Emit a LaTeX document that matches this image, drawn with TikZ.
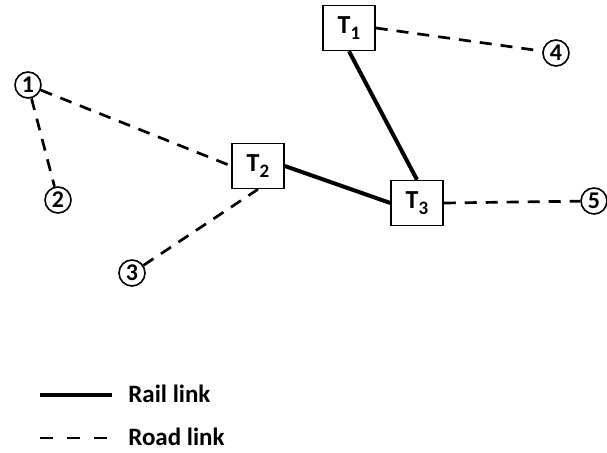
\documentclass[tikz,border=0pt]{standalone}
\usepackage{fontspec}
\setmainfont{Carlito}
\newcommand{\tsub}[1]{\raisebox{-0.45ex}{\fontsize{9.5}{9.5}\selectfont #1}}
\begin{document}
\begin{tikzpicture}[x=0.5pt,y=-0.5pt,
  term/.style={draw,line width=0.75pt,minimum width=26pt,minimum height=22.5pt,inner sep=0pt,font=\fontsize{13}{13}\selectfont\bfseries},
  zone/.style={draw,circle,line width=0.8pt,minimum size=13pt,inner sep=0pt,font=\fontsize{12}{12}\selectfont\bfseries},
  rail/.style={line width=2pt},
  road/.style={line width=1.35pt,dash pattern=on 6pt off 4.5pt},
  legtext/.style={anchor=west,inner sep=0pt,font=\fontsize{12.5}{13}\selectfont\bfseries}]
\useasboundingbox (0,0) rectangle (607,453);
\node[term] (T1) at (349,28) {T\tsub{1}};
\node[term] (T2) at (258,166) {T\tsub{2}};
\node[term] (T3) at (417,203) {T\tsub{3}};
\node[zone] (c1) at (28,85) {1};
\node[zone] (c2) at (58,200) {2};
\node[zone] (c3) at (132,273) {3};
\node[zone] (c4) at (556,53) {4};
\node[zone] (c5) at (594,201) {5};
\draw[rail] (T1.south) -- (T3.north);
\draw[rail] (T2.east) -- (T3.west);
\draw[road] (T1.east) -- (c4);
\draw[road] (T3.east) -- (c5);
\draw[road] (c1) -- (T2.west);
\draw[road] (c1) -- (c2);
\draw[road] (c3) -- (T2.south);
\coordinate (l1a) at (40,395);
\coordinate (l1b) at (112,395);
\coordinate (l2a) at (40,438);
\coordinate (l2b) at (110,438);
\draw[rail] (l1a) -- (l1b);
\draw[line width=1.35pt,dash pattern=on 6.5pt off 7pt] (l2a) -- (l2b);
\node[legtext] (t1) at (128,394) {Rail link};
\node[legtext] (t2) at (128,437) {Road link};
\end{tikzpicture}
\end{document}
